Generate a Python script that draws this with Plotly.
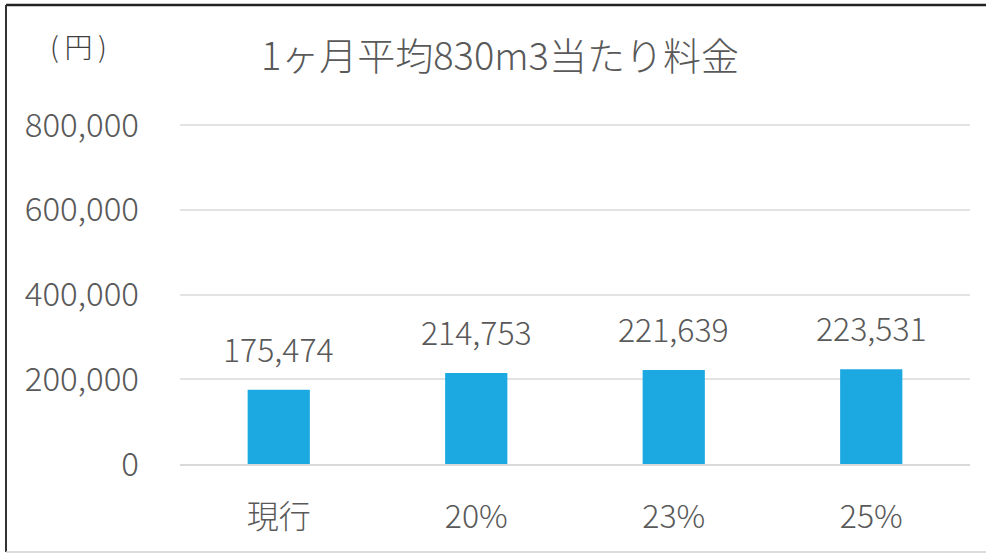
import plotly.graph_objects as go

categories = ["現行", "20%", "23%", "25%"]
values = [175474, 214753, 221639, 223531]
y_ticks = [0, 200000, 400000, 600000, 800000]
y_tick_labels = ["0", "200,000", "400,000", "600,000", "800,000"]

FONT = "Noto Sans CJK JP"
GREY = "#595959"

PLOT_H = 347
fig = go.Figure()
fig.add_trace(go.Bar(
    x=categories, y=values,
    marker=dict(color="#1CA9E1", line=dict(width=0)),
    width=0.315,
    hoverinfo="skip",
))

for c, v in zip(categories, values):
    fig.add_annotation(x=c, y=v, text=f"{v:,}", showarrow=False,
                       yanchor="bottom", yshift=17,
                       font=dict(family=FONT, size=32, color=GREY, weight=300))

fig.update_layout(
    width=986, height=554,
    margin=dict(l=180, r=16, t=554 - 90 - PLOT_H, b=90),
    paper_bgcolor="white", plot_bgcolor="white",
    showlegend=False,
    font=dict(family=FONT, color=GREY),
    title=dict(text="1ヶ月平均830m3当たり料金", x=0.507, xanchor="center",
               y=0.897, yanchor="middle",
               font=dict(family=FONT, size=38, color=GREY, weight=300)),
    xaxis=dict(showgrid=False, showline=True, linecolor="#D9D9D9", linewidth=1.5,
               ticks="", tickfont=dict(family=FONT, size=32, color=GREY, weight=300),
               ticklabelstandoff=24, zeroline=False),
    yaxis=dict(range=[0, PLOT_H / 339 * 800000], tickvals=y_ticks, ticktext=y_tick_labels,
               showgrid=True, gridcolor="#E3E3E3", gridwidth=1.5,
               zeroline=False, showline=False, ticks="",
               tickfont=dict(family=FONT, size=33, color=GREY, weight=300),
               ticklabelstandoff=40),
)

fig.add_annotation(xref="paper", yref="paper", x=(78 - 180) / 790, y=(464 - 46) / PLOT_H,
                   text="(\u2009円\u2009)", showarrow=False, xanchor="center", yanchor="middle",
                   font=dict(family=FONT, size=28, color="#404040", weight=300))

# outer frame lines
fig.add_shape(type="line", xref="paper", yref="paper",
              x0=(6 - 180) / 790, x1=(986 - 180) / 790,
              y0=(464 - 5) / PLOT_H, y1=(464 - 5) / PLOT_H,
              line=dict(color="#222222", width=2.5))
fig.add_shape(type="line", xref="paper", yref="paper",
              x0=(6 - 180) / 790, x1=(6 - 180) / 790,
              y0=(464 - 5) / PLOT_H, y1=(464 - 552) / PLOT_H,
              line=dict(color="#333333", width=2))
fig.add_shape(type="line", xref="paper", yref="paper",
              x0=(6 - 180) / 790, x1=(986 - 180) / 790,
              y0=(464 - 552) / PLOT_H, y1=(464 - 552) / PLOT_H,
              line=dict(color="#D0D0D0", width=1.5))

fig.write_html("out.html", config={"displayModeBar": False},
               post_script="document.body.style.margin='0';")
